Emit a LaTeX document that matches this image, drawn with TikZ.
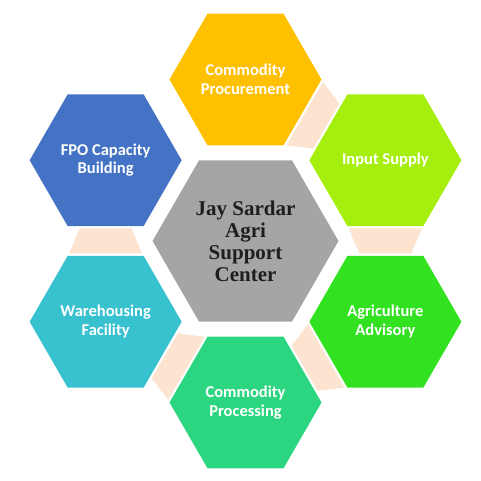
\documentclass[tikz,border=0pt]{standalone}
\usepackage{fontspec}
\setmainfont{Carlito}
\newfontfamily\hubfont{Liberation Serif}
\usetikzlibrary{shapes.geometric, calc}

\definecolor{procure}{RGB}{255,192,0}
\definecolor{input}{RGB}{166,238,14}
\definecolor{advisory}{RGB}{50,226,32}
\definecolor{process}{RGB}{44,214,128}
\definecolor{warehouse}{RGB}{56,193,206}
\definecolor{fpo}{RGB}{68,114,196}
\definecolor{hubgray}{RGB}{165,165,165}
\definecolor{hubtext}{RGB}{30,30,30}
\definecolor{peach}{RGB}{252,228,208}

\begin{document}
\begin{tikzpicture}[x=1pt, y=1pt,
    hexa/.style={regular polygon, regular polygon sides=6, minimum size=152pt,
        inner sep=0pt, text=white, align=center,
        font=\fontsize{16.5}{18.5}\selectfont\bfseries},
    band/.style={fill=peach}]
    \useasboundingbox (-245.5,-240) rectangle (235.5,241);

    % Hub
    \node[hexa, minimum size=186pt, fill=hubgray, text=hubtext,
        font=\hubfont\fontsize{21}{22}\selectfont\bfseries] (hub) at (0,0)
        {Jay Sardar\\Agri\\Support\\Center};

    % Outer ring
    \node[hexa, fill=procure] (procure) at (90:161.5) {Commodity\\Procurement};
    \node[hexa, fill=input] (input) at (30:161.5) {Input Supply};
    \node[hexa, fill=advisory] (advisory) at (-30:161.5) {Agriculture\\Advisory};
    \node[hexa, fill=process] (process) at (-90:161.5) {Commodity\\Processing};
    \node[hexa, fill=warehouse] (warehouse) at (210:161.5) {Warehousing\\Facility};
    \node[hexa, fill=fpo] (fpo) at (150:161.5) {FPO Capacity\\Building};

    % Links between neighbours
    \foreach \src/\tgt/\ang in {procure/input/-30, input/advisory/-90,
        advisory/process/-150, process/warehouse/150, warehouse/fpo/90} {
        \begin{scope}[shift={($(\src)!0.5!(\tgt)$)}, rotate=\ang]
            \fill[band] (-12.5,36.5) -- (12.5,26) -- (12.5,-26) -- (-12.5,-36.5) -- cycle;
        \end{scope}
    }
\end{tikzpicture}
\end{document}
